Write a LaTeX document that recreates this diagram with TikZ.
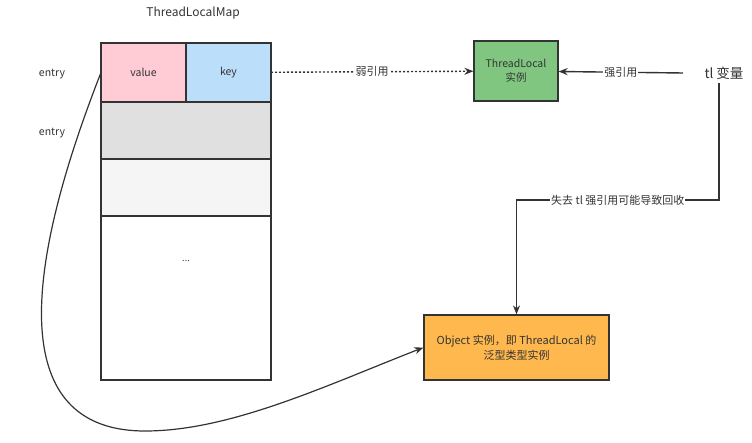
\documentclass[tikz,border=0pt]{standalone}
\usepackage{fontspec}
\setmainfont{Noto Sans CJK SC}
\usepackage{xcolor}
\usetikzlibrary{arrows.meta,positioning,calc}

\definecolor{inkc}{HTML}{333333}
\definecolor{valuec}{HTML}{FFCCD5}
\definecolor{keyc}{HTML}{BBDEFB}
\definecolor{rowa}{HTML}{E0E0E0}
\definecolor{rowb}{HTML}{F5F5F5}
\definecolor{tlc}{HTML}{80C680}
\definecolor{objc}{HTML}{FFB84D}

\begin{document}
\begin{tikzpicture}[
    x=1pt, y=-1pt,
    font=\fontsize{10.5}{13.5}\selectfont, text=inkc,
    cell/.style={rectangle, draw=inkc, line width=1.2pt, inner sep=0pt, outer sep=0pt, align=center},
    box/.style={rectangle, draw=inkc, line width=1.2pt, inner sep=0pt, align=center},
    arrow/.style={-{Stealth[length=9pt,width=7pt]}, draw=inkc, line width=1.4pt},
    lbl/.style={fill=white, inner sep=1pt}
]
    \useasboundingbox (0,0) rectangle (752,443);

    % map
    \node[font=\fontsize{12}{14}\selectfont] (title) at (193,13) {ThreadLocalMap};
    \node[cell, fill=valuec, minimum width=85pt, minimum height=59pt, anchor=north west] (value) at (101,43) {value};
    \node[cell, fill=keyc, minimum width=85pt, minimum height=59pt, right=0pt of value] (key) {key};
    \node[cell, fill=rowa, minimum width=170pt, minimum height=57pt, anchor=north west] (rowone) at (value.south west) {};
    \node[cell, fill=rowb, minimum width=170pt, minimum height=57pt, anchor=north west] (rowtwo) at (rowone.south west) {};
    \node[cell, fill=white, minimum width=170pt, minimum height=164pt, anchor=north west] (rest) at (rowtwo.south west) {};
    \node[font=\fontsize{9}{10}\selectfont] (dots) at (186,261) {...};
    \draw[inkc, line width=2.6pt] (value.north west) -- (key.north east);

    \node (entrya) at (52,74) {entry};
    \node (entryb) at (52,133) {entry};

    % instances
    \node[box, fill=tlc, minimum width=84pt, minimum height=60pt] (tlobj) at (516,71) {ThreadLocal\\实例};
    \node[font=\fontsize{13.5}{15}\selectfont] (tl) at (724,73) {tl 变量};
    \node[box, fill=objc, minimum width=185pt, minimum height=65pt, font=\fontsize{11}{15}\selectfont] (obj) at (516.5,347.5) {Object 实例，即 ThreadLocal 的\\泛型类型实例};
    \coordinate (bend) at (719,200);

    % references
    \draw[arrow, dash pattern=on 2pt off 2pt] (key) -- node[lbl, font=\fontsize{11}{13}\selectfont] {弱引用} (tlobj);
    \draw[arrow] ([xshift=-18pt]tl.west) -- node[lbl, font=\fontsize{11}{13}\selectfont] {强引用} (tlobj);
    \draw[arrow] (bend |- tl.south) -- (bend) -- node[lbl, font=\fontsize{11}{13}\selectfont] {失去 tl 强引用可能导致回收} (bend -| obj.north) -- (obj.north);
    \draw[arrow, line width=1.2pt] (value.west) .. controls (8,310) and (25,431) .. (145,431)
        .. controls (230,431) and (325,386) .. (obj.west);
\end{tikzpicture}
\end{document}
